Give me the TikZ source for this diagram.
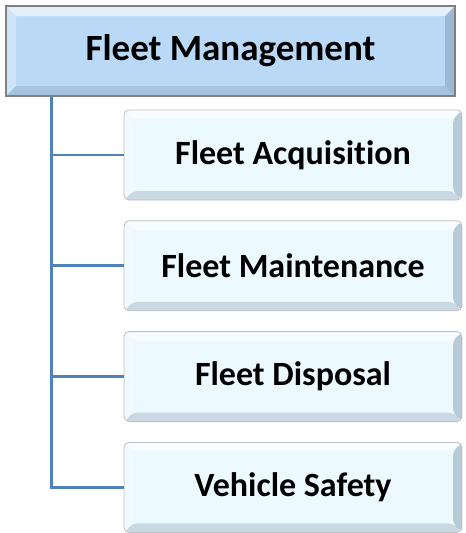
\documentclass[tikz,border=0pt]{standalone}
\usepackage{fontspec}
\setmainfont{Carlito}[Ligatures=NoCommon]
\usetikzlibrary{positioning}
\definecolor{rootblue}{RGB}{185,217,247}
\definecolor{leafcyan}{RGB}{236,249,254}
\definecolor{linkblue}{RGB}{79,129,189}
\definecolor{rimgray}{RGB}{128,128,128}
\definecolor{shadeblue}{RGB}{120,145,170}

\tikzset{
  bevel/.style={path picture={
    \fill[white, opacity=.6] (path picture bounding box.north west) -- (path picture bounding box.north east)
      -- ([shift={(-#1,-#1)}]path picture bounding box.north east) -- ([shift={(#1,-#1)}]path picture bounding box.north west) -- cycle;
    \fill[white, opacity=.3] (path picture bounding box.north west) -- (path picture bounding box.south west)
      -- ([shift={(#1,#1)}]path picture bounding box.south west) -- ([shift={(#1,-#1)}]path picture bounding box.north west) -- cycle;
    \fill[shadeblue, opacity=.3] (path picture bounding box.south west) -- (path picture bounding box.south east)
      -- ([shift={(-#1,#1)}]path picture bounding box.south east) -- ([shift={(#1,#1)}]path picture bounding box.south west) -- cycle;
    \fill[shadeblue, opacity=.45] (path picture bounding box.north east) -- (path picture bounding box.south east)
      -- ([shift={(-#1,#1)}]path picture bounding box.south east) -- ([shift={(-#1,-#1)}]path picture bounding box.north east) -- cycle;
  }},
}

\begin{document}
\begin{tikzpicture}[x=1pt, y=-1pt,
    rootbox/.style={rectangle, draw=rimgray, line width=1.2pt, fill=rootblue, minimum width=449pt, minimum height=90pt, inner sep=0pt, font=\bfseries\fontsize{37}{40}\selectfont, bevel=10pt},
    leafbox/.style={rectangle, rounded corners=5pt, draw=rimgray!50, line width=0.8pt, fill=leafcyan, minimum width=338pt, minimum height=90pt, inner sep=0pt, font=\bfseries\fontsize{34}{38}\selectfont, bevel=9pt},
    link/.style={draw=linkblue, line width=2.8pt},
]
\useasboundingbox (0,0) rectangle (466,533);

% Root
\node[rootbox] (fleet) at (230.5,51) {Fleet Management};

% Branches
\node[leafbox] (acquisition) at (293,155) {Fleet Acquisition};
\node[leafbox, below=20pt of acquisition] (maintenance) {Fleet Maintenance};
\node[leafbox, below=20pt of maintenance] (disposal) {Fleet Disposal};
\node[leafbox, below=20pt of disposal] (safety) {Vehicle Safety};

% Tree lines
\coordinate (trunk) at ([xshift=46pt]fleet.south west);
\foreach \leaf in {acquisition, maintenance, disposal, safety}
  \draw[link] (trunk) |- (\leaf.west);

\end{tikzpicture}
\end{document}
